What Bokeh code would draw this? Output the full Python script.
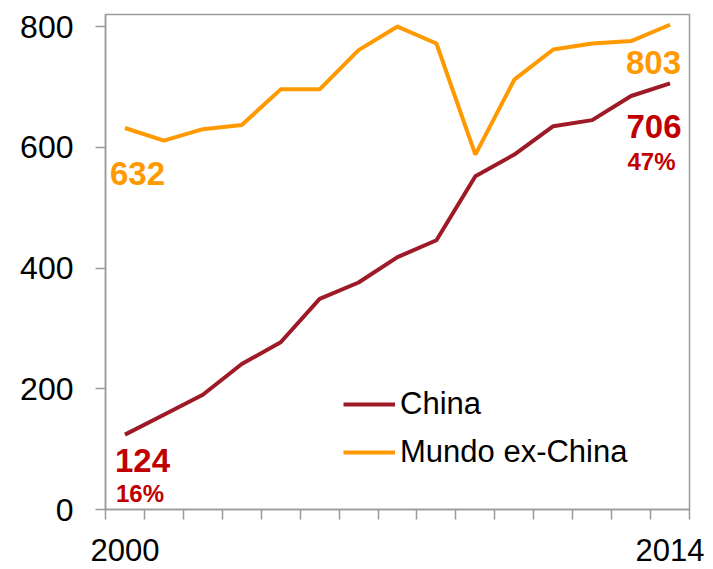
from bokeh.plotting import figure
from bokeh.models import ColumnDataSource, Range1d, FixedTicker, Legend, LegendItem
from bokeh.core.properties import value
from bokeh.embed import file_html
from bokeh.resources import INLINE

years = list(range(2000, 2015))
china = [124, 157, 190, 241, 277, 349, 376, 418, 446, 552, 588, 635, 645, 685, 706]
mundo = [632, 611, 630, 637, 696, 696, 761, 800, 772, 588, 712, 762, 772, 776, 803]
year_labels = {2000: "2000", 2014: "2014"}
y_ticks = [0, 200, 400, 600, 800]

C_CHINA = "#9E1A26"
C_MUNDO = "#FF9900"
C_LABEL = "#C00000"
GRAY = "#9A9A9A"
FONT = "Liberation Sans"

p = figure(frame_width=584, frame_height=495, output_backend="svg", toolbar_location=None,
           x_range=Range1d(1999.5, 2014.5), y_range=Range1d(0, 820),
           min_border_left=105, min_border_right=16, min_border_top=14, min_border_bottom=58)
p.grid.visible = False
p.outline_line_color = GRAY
p.outline_line_width = 1.5
p.background_fill_color = "white"
p.border_fill_color = "white"

src = ColumnDataSource(dict(year=years, china=china, mundo=mundo))
r_china = p.line("year", "china", source=src, line_color=C_CHINA, line_width=4)
r_mundo = p.line("year", "mundo", source=src, line_color=C_MUNDO, line_width=4)

# x axis
xa = p.xaxis[0]
xa.ticker = FixedTicker(ticks=[2000, 2014], minor_ticks=[y + 0.5 for y in range(1999, 2015)])
xa.major_label_overrides = year_labels
xa.major_tick_out = 0
xa.major_tick_in = 0
xa.minor_tick_out = 10
xa.minor_tick_in = 0
xa.minor_tick_line_color = GRAY
xa.minor_tick_line_width = 1.5
xa.axis_line_color = GRAY
xa.axis_line_width = 1.5
xa.major_label_standoff = 19
xa.major_label_text_font = FONT
xa.major_label_text_font_size = "31px"
xa.major_label_text_color = "black"

ya = p.yaxis[0]
ya.ticker = FixedTicker(ticks=y_ticks)
ya.minor_tick_line_color = None
ya.major_tick_out = 10
ya.major_tick_in = 0
ya.major_tick_line_color = GRAY
ya.major_tick_line_width = 1.5
ya.axis_line_color = GRAY
ya.axis_line_width = 1.5
ya.major_label_standoff = 22
ya.major_label_text_font = FONT
ya.major_label_text_font_size = "32px"
ya.major_label_text_color = "black"

# end labels
def lab(x, y, txt, color, size, dx, dy):
    p.text(x=[x], y=[y], text=[txt], text_color=color, text_font=value(FONT),
           text_font_size=size, text_font_style="bold", text_align="center",
           text_baseline="middle", x_offset=dx, y_offset=dy)

first, last = 0, len(years) - 1
china_share_first = "16%"
china_share_last = "47%"
lab(years[first], mundo[first], str(mundo[first]), C_MUNDO, "33px", 12.5, 46)
lab(years[first], china[first], str(china[first]), C_LABEL, "33px", 17.5, 26)
lab(years[first], china[first], china_share_first, C_LABEL, "24px", 15, 59)
lab(years[last], mundo[last], str(mundo[last]), C_MUNDO, "33px", -16.5, 37.5)
lab(years[last], china[last], str(china[last]), C_LABEL, "33px", -16, 43)
lab(years[last], china[last], china_share_last, C_LABEL, "24px", -18.5, 78)

legend = Legend(items=[LegendItem(label="China", renderers=[r_china]),
                       LegendItem(label="Mundo ex-China", renderers=[r_mundo])],
                location=(238, 39), orientation="vertical")
legend.border_line_color = None
legend.background_fill_alpha = 0
legend.padding = 0
legend.margin = 0
legend.spacing = 12
legend.glyph_width = 52
legend.label_standoff = 5
legend.label_text_font = FONT
legend.label_text_font_size = "31px"
legend.label_text_color = "black"
p.add_layout(legend)

open("out.html", "w").write(file_html(p, INLINE))
